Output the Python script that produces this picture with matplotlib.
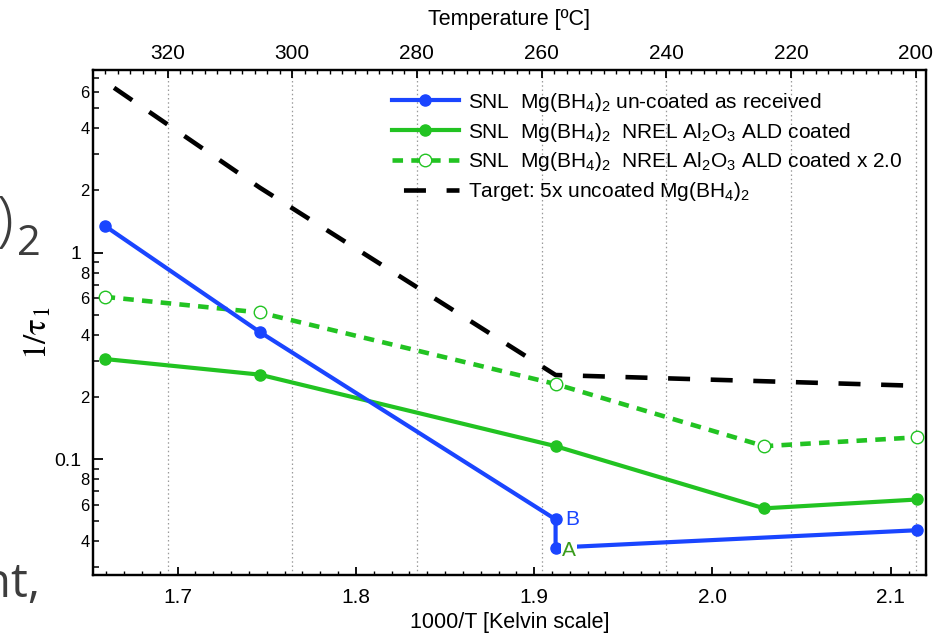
import numpy as np
import matplotlib
matplotlib.use("Agg")
import matplotlib.pyplot as plt
from matplotlib.ticker import (FixedLocator, FuncFormatter, MultipleLocator,
                               LogLocator)

plt.rcParams["font.family"] = ["Liberation Sans", "DejaVu Sans"]
plt.rcParams["mathtext.fontset"] = "custom"
plt.rcParams["mathtext.rm"] = "Liberation Sans"
plt.rcParams["mathtext.it"] = "Liberation Sans:italic"
plt.rcParams["mathtext.default"] = "rm"

# ---- data: rate constant 1/tau_1 versus 1000/T ----
inv_t_uncoated = [1.659, 1.746, 1.912, 1.912, 2.115]
rate_uncoated = [1.35, 0.413, 0.0511, 0.0373, 0.0453]

inv_t_coated = [1.659, 1.746, 1.912, 2.029, 2.115]
rate_coated = [0.3055, 0.2566, 0.1156, 0.0578, 0.0638]
rate_coated_x2 = [0.611, 0.513, 0.231, 0.1156, 0.1276]

inv_t_target = [1.659, 1.746, 1.912, 2.115]
rate_target = [6.75, 2.065, 0.2555, 0.2265]

x_ticks = [1.7, 1.8, 1.9, 2.0, 2.1]
temp_ticks = [320, 300, 280, 260, 240, 220, 200]
y_major = [0.1, 1]

series_labels = [
    "SNL  Mg(BH$_4$)$_2$ un-coated as received",
    "SNL  Mg(BH$_4$)$_2$  NREL Al$_2$O$_3$ ALD coated",
    "SNL  Mg(BH$_4$)$_2$  NREL Al$_2$O$_3$ ALD coated x 2.0",
    "Target: 5x uncoated Mg(BH$_4$)$_2$",
]

BLUE = "#1a45ff"
GREEN = "#22c322"
LABEL_GREEN = "#3a9c1c"

XLIM = (1.6525, 2.1198)
YLIM = (0.0274, 7.7)


def to_celsius(x):
    # linear temperature scale used along the top edge
    return 804.4 - 285.9 * np.asarray(x)


fig = plt.figure(figsize=(9.45, 6.34), dpi=100)
W, H = 945, 634
ax = fig.add_axes([93 / W, 1 - 575.3 / H, (926 - 93) / W, (575.3 - 69.5) / H])

# ---- curves ----
h1, = ax.plot(inv_t_uncoated, rate_uncoated, color=BLUE, lw=3, marker="o",
              ms=8, zorder=4)
h2, = ax.plot(inv_t_coated, rate_coated, color=GREEN, lw=3, marker="o",
              ms=8, zorder=3)
h3, = ax.plot(inv_t_coated, rate_coated_x2, color=GREEN, lw=3.3,
              linestyle=(0, (2.3, 1.8)), marker="o", ms=9, mfc="white",
              mec=GREEN, mew=1.0, zorder=3)
h4, = ax.plot(inv_t_target, rate_target, color="black", lw=3.3,
              linestyle=(6.8, (4.8, 4.5)), zorder=2)

ax.set_xscale("linear")
ax.set_yscale("log")
ax.set_xlim(*XLIM)
ax.set_ylim(*YLIM)

# ---- bottom axis ----
ax.xaxis.set_major_locator(FixedLocator(x_ticks))
ax.xaxis.set_major_formatter(FuncFormatter(lambda v, p: f"{v:.1f}"))
ax.xaxis.set_minor_locator(MultipleLocator(0.01))
ax.tick_params(axis="x", which="major", direction="in", length=5.8, width=1.3,
               labelsize=15, pad=9, top=False)
ax.tick_params(axis="x", which="minor", direction="in", length=2.9, width=1.0,
               top=False)
ax.set_xlabel("1000/T [Kelvin scale]", fontsize=15.5, labelpad=4)

# ---- left axis ----
ax.yaxis.set_major_locator(FixedLocator(y_major))
ax.yaxis.set_major_formatter(FuncFormatter(lambda v, p: f"{v:g}"))
ax.yaxis.set_minor_locator(LogLocator(base=10, subs=np.arange(2, 10),
                                      numticks=20))


def minor_label(v, pos):
    m = int(round(v / 10 ** np.floor(np.log10(v) + 1e-9)))
    return str(m) if m in (2, 4, 6, 8) else ""


ax.yaxis.set_minor_formatter(FuncFormatter(minor_label))
ax.tick_params(axis="y", which="major", direction="in", length=7.2, width=1.3,
               labelsize=14, pad=8.6, right=False)
ax.tick_params(axis="y", which="minor", direction="in", length=4.3, width=1.1,
               labelsize=12, pad=2.5, right=False)
ax.set_ylabel(r"$1/\tau_1$", fontsize=24, math_fontfamily="stix")
ax.yaxis.set_label_coords(-0.047, 0.479)

for s in ax.spines.values():
    s.set_linewidth(1.6)

# ---- top temperature axis with its dotted grid ----
ax2 = ax.twiny()
ax2.set_xlim(to_celsius(XLIM[0]), to_celsius(XLIM[1]))
ax2.xaxis.set_major_locator(FixedLocator(temp_ticks))
ax2.xaxis.set_minor_locator(MultipleLocator(2))
ax2.tick_params(axis="x", which="major", direction="in", length=5.8, width=1.3,
                labelsize=15, pad=5)
ax2.tick_params(axis="x", which="minor", direction="in", length=2.9, width=1.0)
ax2.set_xlabel("Temperature [ºC]", fontsize=15.5, labelpad=13)
ax2.grid(axis="x", which="major", color="#9a9a9a", linestyle=(0, (1.2, 2.2)),
         linewidth=0.9)
ax2.set_zorder(ax.get_zorder() - 1)
ax.patch.set_visible(False)
for s in ax2.spines.values():
    s.set_linewidth(1.6)

# ---- point labels ----
ax.annotate("B", xy=(inv_t_uncoated[2], rate_uncoated[2]), xytext=(6.7, 0),
            textcoords="offset points", ha="left", va="center", color=BLUE,
            fontsize=15, zorder=6)
ax.annotate("A", xy=(inv_t_uncoated[3], rate_uncoated[3]), xytext=(4.8, -2.3),
            textcoords="offset points", ha="left", va="center",
            color=LABEL_GREEN, fontsize=15, zorder=6,
            bbox=dict(boxstyle="square,pad=0.05", fc="white", ec="none"))

# ---- legend ----
ax.legend([h1, h2, h3, h4], series_labels, loc="upper left",
          bbox_to_anchor=(0.359, 0.958), frameon=False, fontsize=15,
          handlelength=3.2, handletextpad=0.45, labelspacing=0.33,
          borderpad=0, borderaxespad=0)

# ---- slide text at the left edge ----
SLIDE_GRAY = "#3d3d3d"
fig.text(13 / W, 1 - 240 / H, ")", ha="right", va="baseline", fontsize=44,
         color=SLIDE_GRAY, family="Open Sans", fontweight="light")
fig.text(17 / W, 1 - 255 / H, "2", ha="left", va="baseline", fontsize=30,
         color=SLIDE_GRAY, family="Open Sans")
fig.text(40 / W, 1 - 597 / H, "nt,", ha="right", va="baseline", fontsize=34,
         color=SLIDE_GRAY, family="Open Sans")

fig.savefig("out.png", dpi=100)
